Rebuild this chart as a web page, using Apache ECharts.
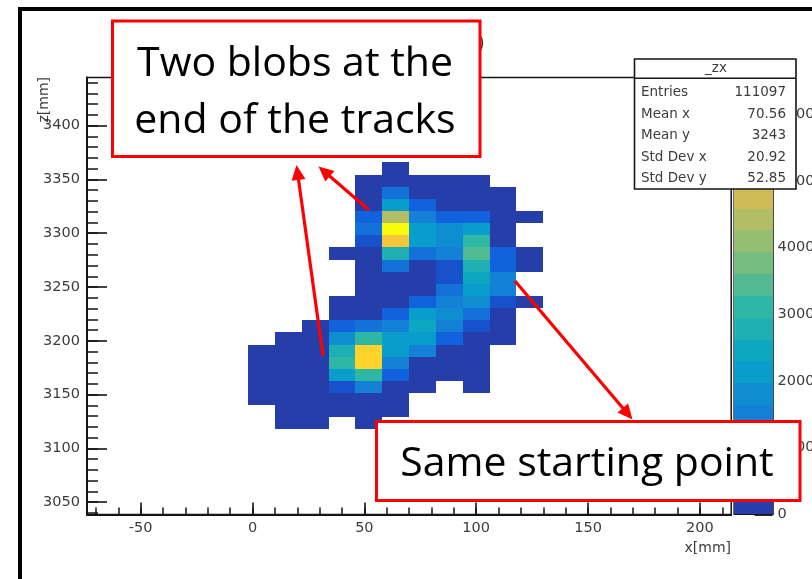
<!DOCTYPE html>
<html>
<head>
<meta charset="utf-8">
<script src="https://cdn.jsdelivr.net/npm/echarts@6/dist/echarts.min.js"></script>
<style>
  html, body { margin: 0; padding: 0; background: #ffffff; }
  #chart { width: 812px; height: 579px; }
</style>
</head>
<body>
<div id="chart"></div>
<script>
// ---- histogram "_zx": z versus x of the hits, 12 mm x bins ----
const xBinCenters = [4, 16, 28, 40, 52, 64, 76, 88, 100, 112, 124];
// z bin centres, top row first
const zBinCenters = [3360.2, 3348.9, 3337.6, 3326.3, 3315.0, 3303.8, 3292.5, 3281.2,
                     3269.9, 3258.6, 3247.4, 3236.1, 3224.8, 3213.5, 3202.2, 3190.9,
                     3179.7, 3168.4, 3157.1, 3145.8, 3134.5, 3123.2];
// bin contents, one row per z bin (top row first), one column per x bin
const counts = [
  [0,   0,   0,   0,    0,    120,  0,    0,    0,    0,    0  ],
  [0,   0,   0,   0,    180,  240,  150,  110,  90,   0,    0  ],
  [0,   0,   0,   0,    210,  1150, 260,  190,  140,  70,   0  ],
  [0,   0,   0,   0,    280,  2100, 820,  250,  230,  110,  0  ],
  [0,   0,   0,   0,    830,  4400, 1480, 820,  800,  160,  60 ],
  [0,   0,   0,   0,    1150, 6550, 2050, 1700, 2150, 270,  0  ],
  [0,   0,   0,   0,    500,  5400, 2000, 1750, 3100, 240,  0  ],
  [0,   0,   0,   60,   300,  2800, 1150, 1450, 3450, 850,  100],
  [0,   0,   0,   0,    230,  1130, 310,  520,  2750, 880,  90 ],
  [0,   0,   0,   0,    170,  290,  300,  560,  2450, 1400, 0  ],
  [0,   0,   0,   0,    200,  260,  310,  1200, 2100, 1350, 0  ],
  [0,   0,   0,   90,   240,  300,  850,  1480, 1800, 520,  110],
  [0,   0,   0,   150,  280,  700,  2120, 1650, 1150, 230,  0  ],
  [0,   0,   110, 840,  1180, 1600, 2450, 1420, 500,  200,  0  ],
  [0,   80,  190, 1650, 3100, 2150, 2000, 680,  260,  150,  0  ],
  [50,  140, 230, 2800, 5750, 2200, 1450, 310,  180,  0,    0  ],
  [60,  160, 280, 3150, 5700, 1500, 320,  250,  120,  0,    0  ],
  [70,  150, 240, 2000, 3050, 800,  280,  160,  100,  0,    0  ],
  [40,  120, 200, 540,  1450, 290,  130,  0,    60,   0,    0  ],
  [30,  90,  170, 250,  280,  160,  0,    0,    0,    0,    0  ],
  [0,   70,  130, 150,  210,  90,   0,    0,    0,    0,    0  ],
  [0,   40,  60,  0,    90,   0,    0,    0,    0,    0,    0  ]
];
const xTicks = [-50, 0, 50, 100, 150, 200];
const zTicks = [3050, 3100, 3150, 3200, 3250, 3300, 3350, 3400];
const paletteTicks = [0, 1000, 2000, 3000, 4000, 5000, 6000];
const statsTitle = '_zx';
const statsNames = ['Entries', 'Mean x', 'Mean y', 'Std Dev x', 'Std Dev y'];
const statsValues = ['111097', '70.56', '3243', '20.92', '52.85'];
const noteTop = ['Two blobs at the', 'end of the tracks'];
const noteBottom = 'Same starting point';

// axis ranges and bin sizes
const xRange = [-74, 214];
const zRange = [3038.6, 3444.8];
const xBinWidth = 12;
const zBinWidth = 11.283;
const zMax = 6550;
const nLevels = 20;

// ROOT "bird" palette, sampled the way COLZ picks a colour per contour level
function birdColor(f) {
  const s = [0, 0.125, 0.25, 0.375, 0.5, 0.625, 0.75, 0.875, 1];
  const r = [0.2082, 0.0592, 0.0780, 0.0232, 0.1802, 0.5301, 0.8186, 0.9956, 0.9764];
  const g = [0.1664, 0.3599, 0.5041, 0.6419, 0.7178, 0.7492, 0.7328, 0.7862, 0.9832];
  const b = [0.5293, 0.8684, 0.8385, 0.7914, 0.6425, 0.4662, 0.3499, 0.1968, 0.0539];
  let i = 0;
  while (i < s.length - 2 && f > s[i + 1]) i++;
  const t = (f - s[i]) / (s[i + 1] - s[i]);
  const m = a => Math.round(255 * (a[i] + (a[i + 1] - a[i]) * t));
  return 'rgb(' + m(r) + ',' + m(g) + ',' + m(b) + ')';
}
const levelStep = zMax / nLevels;
const pieces = [];
for (let i = 0; i < nLevels; i++) {
  const p = { gte: i * levelStep, color: birdColor((i + 0.99) / nLevels) };
  if (i < nLevels - 1) p.lt = (i + 1) * levelStep;
  pieces.push(p);
}

// non-empty cells of the histogram
const cells = [];
counts.forEach((row, r) => row.forEach((v, c) => {
  if (v > 0) cells.push([xBinCenters[c], zBinCenters[r], v]);
}));
// colour bar bands: [low, high, mid]
const bands = [];
for (let i = 0; i < nLevels; i++) bands.push([i * levelStep, (i + 1) * levelStep, (i + 0.5) * levelStep]);

const xMinor = [];
for (let v = -70; v <= 210; v += 10) xMinor.push(v);
const zMinor = [];
for (let v = 3040; v <= 3440; v += 10) zMinor.push(v);

const rootFont = 'DejaVu Sans';
const labelColor = '#3c3c3c';
const ink = '#141414';
const plain = v => String(v);

// ---- annotation helpers ----
function arrow(x1, y1, x2, y2) {
  const len = Math.hypot(x2 - x1, y2 - y1);
  const ux = (x2 - x1) / len, uy = (y2 - y1) / len;
  const hl = 15, hw = 7;
  const bx = x2 - ux * hl, by = y2 - uy * hl;
  return [
    { type: 'line', z: 120, shape: { x1: x1, y1: y1, x2: bx + ux * 2, y2: by + uy * 2 },
      style: { stroke: '#ff0000', lineWidth: 3.2 } },
    { type: 'polygon', z: 120,
      shape: { points: [[x2, y2], [bx - uy * hw, by + ux * hw], [bx + uy * hw, by - ux * hw]] },
      style: { fill: '#ff0000' } }
  ];
}
function txt(x, y, text, o) {
  return Object.assign({ type: 'text', z: 110, x: x, y: y,
    style: Object.assign({ text: text, fill: labelColor, fontFamily: rootFont, fontSize: 14 }, o || {}) });
}

const statsRowsY = [92.5, 114, 135.5, 157, 178];
const statsGraphics = [
  { type: 'rect', z: 105, shape: { x: 634.5, y: 59, width: 161.5, height: 130 },
    style: { fill: '#ffffff', stroke: ink, lineWidth: 1.6 } },
  { type: 'line', z: 106, shape: { x1: 634.5, y1: 78.3, x2: 796, y2: 78.3 },
    style: { stroke: ink, lineWidth: 1.6 } },
  txt(716, 68.5, statsTitle, { align: 'center', verticalAlign: 'middle', fontSize: 13.5 })
];
statsNames.forEach((n, i) => {
  statsGraphics.push(txt(641, statsRowsY[i], n, { align: 'left', verticalAlign: 'middle', fontSize: 13.5 }));
  statsGraphics.push(txt(786, statsRowsY[i], statsValues[i], { align: 'right', verticalAlign: 'middle', fontSize: 13.5 }));
});

const noteFont = { fontFamily: 'Open Sans', fontSize: 41, fill: '#000000', align: 'center', verticalAlign: 'middle' };

const graphics = [].concat(
  [
    // outer black border of the picture
    { type: 'rect', z: 90, shape: { x: 18, y: 7, width: 4, height: 572 }, style: { fill: '#000000' } },
    { type: 'rect', z: 90, shape: { x: 18, y: 7, width: 794, height: 4 }, style: { fill: '#000000' } },
    // axis titles
    txt(731, 548, 'x[mm]', { align: 'right', verticalAlign: 'middle', fontSize: 14 }),
    { type: 'text', z: 110, x: 44, y: 77, rotation: Math.PI / 2,
      style: { text: 'z[mm]', fill: labelColor, fontFamily: rootFont, fontSize: 14, align: 'right', verticalAlign: 'middle' } },
    // end of the histogram title, peeking out beside the note box
    txt(478, 45, ')', { align: 'left', verticalAlign: 'middle', fontSize: 17, fill: '#333333' })
  ],
  statsGraphics,
  [
    { type: 'rect', z: 115, shape: { x: 112.5, y: 21, width: 367.5, height: 135.5 },
      style: { fill: '#ffffff', stroke: '#ff0000', lineWidth: 3 } },
    { type: 'text', z: 116, x: 295, y: 64.5, style: Object.assign({ text: noteTop[0] }, noteFont) },
    { type: 'text', z: 116, x: 295, y: 121, style: Object.assign({ text: noteTop[1] }, noteFont) },
    { type: 'rect', z: 115, shape: { x: 376.5, y: 421.5, width: 423.5, height: 79 },
      style: { fill: '#ffffff', stroke: '#ff0000', lineWidth: 3 } },
    { type: 'text', z: 116, x: 587, y: 464, style: Object.assign({ text: noteBottom }, noteFont) }
  ],
  arrow(323, 356, 296.5, 165),
  arrow(369, 210, 318.5, 166.5),
  arrow(515, 281, 632.5, 419.5)
);

const chart = echarts.init(document.getElementById('chart'), null, { renderer: 'canvas' });
chart.setOption({
  animation: false,
  backgroundColor: '#ffffff',
  grid: [
    { left: 87, top: 77.5, width: 644.2, height: 436.9, show: true, borderColor: ink, borderWidth: 1.5,
      backgroundColor: 'transparent', containLabel: false, outerBoundsMode: 'none' },
    { left: 734, top: 77.5, width: 38.5, height: 436.9, show: true, borderColor: ink, borderWidth: 1.2,
      backgroundColor: 'transparent', containLabel: false, outerBoundsMode: 'none' }
  ],
  visualMap: [{ type: 'piecewise', show: false, dimension: 2, seriesIndex: [0, 1], pieces: pieces }],
  xAxis: [
    { gridIndex: 0, type: 'value', min: xRange[0], max: xRange[1], position: 'bottom',
      axisLine: { show: true, onZero: false, lineStyle: { color: ink, width: 2 } },
      axisTick: { show: true, inside: true, length: 12, customValues: xTicks, lineStyle: { color: ink, width: 1.6 } },
      axisLabel: { show: true, customValues: xTicks, formatter: plain, margin: 6, fontFamily: rootFont, fontSize: 14.5, color: labelColor },
      splitLine: { show: false } },
    { gridIndex: 0, type: 'value', min: xRange[0], max: xRange[1], position: 'bottom',
      axisLine: { show: false, onZero: false },
      axisTick: { show: true, inside: true, length: 7, customValues: xMinor, lineStyle: { color: ink, width: 1.5 } },
      axisLabel: { show: false }, splitLine: { show: false } },
    { gridIndex: 1, type: 'value', min: 0, max: 1, show: false }
  ],
  yAxis: [
    { gridIndex: 0, type: 'value', min: zRange[0], max: zRange[1], position: 'left',
      axisLine: { show: true, onZero: false, lineStyle: { color: ink, width: 2 } },
      axisTick: { show: true, inside: true, length: 20, customValues: zTicks, lineStyle: { color: ink, width: 1.6 } },
      axisLabel: { show: true, customValues: zTicks, formatter: plain, margin: 7, fontFamily: rootFont, fontSize: 14.5, color: labelColor },
      splitLine: { show: false } },
    { gridIndex: 0, type: 'value', min: zRange[0], max: zRange[1], position: 'left',
      axisLine: { show: false, onZero: false },
      axisTick: { show: true, inside: true, length: 11, customValues: zMinor, lineStyle: { color: ink, width: 1.5 } },
      axisLabel: { show: false }, splitLine: { show: false } },
    { gridIndex: 1, type: 'value', min: 0, max: zMax, position: 'right',
      axisLine: { show: true, onZero: false, lineStyle: { color: ink, width: 1.5 } },
      axisTick: { show: true, inside: true, length: 18, customValues: paletteTicks, lineStyle: { color: ink, width: 1.8 } },
      axisLabel: { show: true, customValues: paletteTicks, formatter: plain, margin: 5, fontFamily: rootFont, fontSize: 14.5, color: labelColor },
      splitLine: { show: false } }
  ],
  series: [
    {
      type: 'custom', name: '_zx', xAxisIndex: 0, yAxisIndex: 0, clip: true, z: 2,
      data: cells,
      encode: { x: 0, y: 1 },
      renderItem: function (params, api) {
        const c = api.coord([api.value(0), api.value(1)]);
        const s = api.size([xBinWidth, zBinWidth], [api.value(0), api.value(1)]);
        const x0 = Math.round(c[0] - s[0] / 2), x1 = Math.round(c[0] + s[0] / 2);
        const y0 = Math.round(c[1] - s[1] / 2), y1 = Math.round(c[1] + s[1] / 2);
        return { type: 'rect',
          shape: { x: x0, y: y0, width: x1 - x0, height: y1 - y0 },
          style: { fill: api.visual('color') } };
      }
    },
    {
      type: 'custom', name: 'palette', xAxisIndex: 2, yAxisIndex: 2, z: 1,
      data: bands,
      renderItem: function (params, api) {
        const p0 = api.coord([0, api.value(0)]);
        const p1 = api.coord([1, api.value(1)]);
        const x0 = Math.round(p0[0]), x1 = Math.round(p1[0]);
        const yTop = Math.round(p1[1]), yBot = Math.round(p0[1]);
        return { type: 'rect',
          shape: { x: x0, y: yTop, width: x1 - x0, height: yBot - yTop },
          style: { fill: api.visual('color') } };
      }
    }
  ],
  graphic: { elements: graphics }
});
</script>
</body>
</html>
